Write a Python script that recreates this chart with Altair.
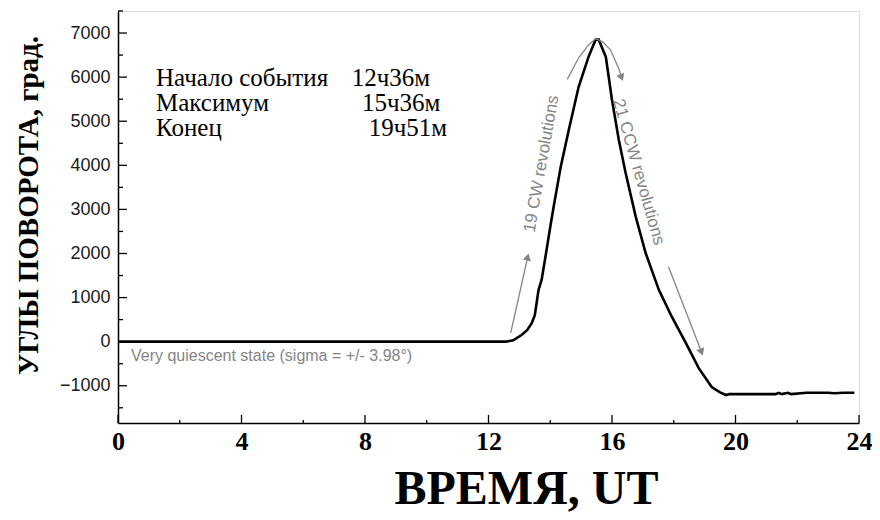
import altair as alt
import pandas as pd

# Main curve: rotation angle (deg) vs UT hour
hours = [0, 12.55, 12.8, 13.07, 13.25, 13.4, 13.5, 13.62, 13.72, 13.85, 14.0, 14.11,
         14.34, 14.6, 14.92, 15.24, 15.47, 15.57, 15.8, 16.0, 16.22, 16.44, 16.77,
         17.09, 17.52, 17.94, 18.39, 18.81, 19.23, 19.5, 19.69, 19.8, 21.3, 21.4,
         21.5, 21.7, 21.8, 22.3, 23.0, 23.2, 23.5, 23.85]
angles = [0, 0, 30, 150, 260, 420, 600, 1170, 1400, 1950, 2600, 3060,
          3970, 4800, 5780, 6460, 6850, 6850, 6460, 5480, 4580, 3830, 2830,
          2010, 1170, 560, -30, -600, -1030, -1150, -1210, -1190, -1190, -1160,
          -1190, -1160, -1190, -1160, -1160, -1170, -1160, -1160]

# Grey annotation arrows
arrow_cw_h = [12.72, 13.27]
arrow_cw_v = [200, 1920]
arc_h = [14.55, 14.92, 15.24, 15.47, 15.7, 15.95, 16.21, 16.31]
arc_v = [5950, 6440, 6730, 6870, 6800, 6620, 6210, 5990]
arrow_ccw_h = [17.83, 18.9]
arrow_ccw_v = [1700, -235]

# Text annotations
info_labels = ["Начало события", "Максимум", "Конец"]
info_times = ["12ч36м", "15ч36м", "19ч51м"]
info_y = [5985, 5418, 4850]
info_label_x = 1.23
info_time_x = [7.57, 7.9, 8.12]
quiet_text = "Very quiescent state (sigma = +/- 3.98°)"
quiet_pos = (0.42, -325)
cw_text = "19 CW revolutions"
cw_pos = (13.72, 4033)
ccw_text = "21 CCW revolutions"
ccw_pos = (16.86, 3850)

x_major = [0, 4, 8, 12, 16, 20, 24]
x_minor = [2, 6, 10, 14, 18, 22]
y_major = [-1000, 0, 1000, 2000, 3000, 4000, 5000, 6000, 7000]
y_minor = [-1500, -500, 500, 1500, 2500, 3500, 4500, 5500, 6500, 7500]

GREY = "#858585"
SERIF = "Liberation Serif"
SANS = "Liberation Sans"

xs = alt.Scale(domain=[0, 24], nice=False, zero=False)
ys = alt.Scale(domain=[-1845, 7500], nice=False, zero=False)

x_axis = alt.Axis(values=x_major, ticks=False, grid=False, format="d",
                  labelFont=SERIF, labelFontWeight="bold", labelFontSize=26,
                  labelColor="black", labelPadding=5, labelFlush=False,
                  labelOverlap=False, domainColor="black", domainWidth=1.5,
                  title="ВРЕМЯ, UT", titleFont=SERIF, titleFontWeight="bold",
                  titleFontSize=48, titleColor="black", titleX=408, titleY=80,
                  titleAlign="center", titleBaseline="alphabetic")
y_axis = alt.Axis(values=y_major, ticks=False, grid=False, format="d",
                  labelFont=SANS, labelFontSize=18, labelColor="#1a1a1a",
                  labelPadding=8, labelFlush=False, labelOverlap=False,
                  domainColor="black", domainWidth=1.5,
                  title="УГЛЫ ПОВОРОТА, град.", titleFont=SERIF,
                  titleFontWeight="bold", titleFontSize=29, titleColor="black",
                  titleAngle=270, titleX=-81, titleY=194, titleAlign="center",
                  titleBaseline="alphabetic")

X = lambda: alt.X("h:Q", scale=xs, axis=x_axis)
Y = lambda: alt.Y("v:Q", scale=ys, axis=y_axis)

curve_df = pd.DataFrame({"h": hours, "v": angles})
curve = alt.Chart(curve_df).mark_line(color="black", strokeWidth=2.6).encode(x=X(), y=Y())

arr_df = pd.concat([
    pd.DataFrame({"h": arrow_cw_h, "v": arrow_cw_v, "s": "cw"}),
    pd.DataFrame({"h": arc_h, "v": arc_v, "s": "arc"}),
    pd.DataFrame({"h": arrow_ccw_h, "v": arrow_ccw_v, "s": "ccw"}),
])
arrows = alt.Chart(arr_df).mark_line(color=GREY, strokeWidth=1.3).encode(
    x=X(), y=Y(), detail="s:N")

def head(h, v, ang):
    return alt.Chart(pd.DataFrame({"h": [h], "v": [v]})).mark_point(
        shape="triangle-up", filled=True, color=GREY, opacity=1, size=70, angle=ang
    ).encode(x=X(), y=Y())

heads = [head(arrow_cw_h[-1], arrow_cw_v[-1], 13),
         head(arc_h[-1], arc_v[-1], 159),
         head(arrow_ccw_h[-1], arrow_ccw_v[-1], 159)]

lab_df = pd.DataFrame({"h": [info_label_x] * 3, "v": info_y, "t": info_labels})
labs = alt.Chart(lab_df).mark_text(font=SERIF, fontSize=25, color="black", align="left",
                                   baseline="middle").encode(x=X(), y=Y(), text="t:N")
tim_df = pd.DataFrame({"h": info_time_x, "v": info_y, "t": info_times})
tims = alt.Chart(tim_df).mark_text(font=SERIF, fontSize=25, color="black", align="left",
                                   baseline="middle").encode(x=X(), y=Y(), text="t:N")

def txt(pos, s, ang, align="center", size=17):
    return alt.Chart(pd.DataFrame({"h": [pos[0]], "v": [pos[1]], "t": [s]})).mark_text(
        font=SANS, fontSize=size, color=GREY, align=align, baseline="middle", angle=ang
    ).encode(x=X(), y=Y(), text="t:N")

quiet = txt(quiet_pos, quiet_text, 0, align="left", size=16)
cw = txt(cw_pos, cw_text, 280)
ccw = txt(ccw_pos, ccw_text, 74)

xmaj = alt.Chart(pd.DataFrame({"h": x_major})).mark_rule(color="black", strokeWidth=1.3).encode(
    x=X(), y=alt.value(412), y2=alt.value(404))
xmin = alt.Chart(pd.DataFrame({"h": x_minor})).mark_rule(color="black", strokeWidth=1.3).encode(
    x=X(), y=alt.value(412), y2=alt.value(409))
ymaj = alt.Chart(pd.DataFrame({"v": y_major})).mark_rule(color="black", strokeWidth=1.3).encode(
    y=Y(), x=alt.value(0), x2=alt.value(9))
ymin = alt.Chart(pd.DataFrame({"v": y_minor})).mark_rule(color="black", strokeWidth=1.3).encode(
    y=Y(), x=alt.value(0), x2=alt.value(5))

chart = alt.layer(curve, arrows, *heads, labs, tims, quiet, cw, ccw, xmaj, xmin, ymaj, ymin).properties(
    width=741, height=412,
    autosize=alt.AutoSizeParams(type="none"),
    padding={"left": 110, "top": 3, "right": 13, "bottom": 90},
).configure_view(stroke=None).configure(background="white")

chart.save("out.html", embed_options={"renderer": "svg", "actions": False})
